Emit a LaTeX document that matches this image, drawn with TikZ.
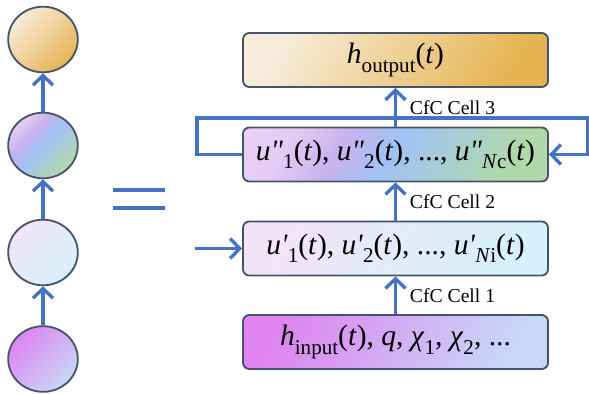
\documentclass[tikz,border=0pt]{standalone}
\usepackage{fontspec}
\setmainfont{Liberation Serif}
\usetikzlibrary{arrows.meta,shapes.geometric}

\definecolor{flowblue}{RGB}{68,114,196}
\definecolor{edgegray}{RGB}{68,84,106}
\definecolor{outA}{RGB}{247,236,218}
\definecolor{outB}{RGB}{230,180,82}
\definecolor{lowA}{RGB}{242,228,247}
\definecolor{lowB}{RGB}{214,241,251}
\definecolor{inA}{RGB}{222,132,240}
\definecolor{inB}{RGB}{200,216,247}

\pgfdeclarehorizontalshading{hidshade}{100bp}{
  rgb(0bp)=(0.93,0.84,0.97); rgb(26bp)=(0.90,0.80,0.96);
  rgb(38bp)=(0.78,0.70,0.93); rgb(49bp)=(0.63,0.76,0.96);
  rgb(60bp)=(0.66,0.80,0.84); rgb(74bp)=(0.69,0.85,0.67);
  rgb(100bp)=(0.69,0.85,0.67)}

\newcommand{\lowidx}[1]{\raisebox{-0.28em}{\fontsize{15}{15}\selectfont #1}}
\newcommand{\upr}{\textit{\textquotesingle}}
\newcommand{\uprr}{\textit{\textquotedbl}}

\begin{document}
\begin{tikzpicture}[>={Straight Barb[length=2.4mm,width=5mm]}, x=0.025cm, y=-0.025cm,
  flow/.style={->, flowblue, line width=2.4pt},
  cell/.style={draw=edgegray, line width=1.3pt, rounded corners=0.16cm,
    minimum width=7.625cm, minimum height=1.35cm, font=\fontsize{21}{25}\selectfont},
  ball/.style={ellipse, draw=edgegray, line width=1.3pt,
    minimum width=1.74cm, minimum height=1.64cm},
  tag/.style={midway, anchor=west, xshift=0.2cm, text=black, font=\fontsize{14}{16}\selectfont}]
\useasboundingbox (0,0) rectangle (589,393);

% unrolled view
\node[ball, left color=outA, right color=outB, shading angle=45] (c4) at (43,39.5) {};
\node[ball, shading=hidshade, shading angle=-45] (c3) at (43,145.5) {};
\node[ball, left color=lowA, right color=lowB, shading angle=45] (c2) at (43,252.5) {};
\node[ball, left color=inA, right color=inB, shading angle=45] (c1) at (43,359) {};
\draw[flow] (c1.north) -- (c2.south);
\draw[flow] (c2.north) -- (c3.south);
\draw[flow] (c3.north) -- (c4.south);

% equals sign
\draw[flowblue, line width=2.4pt] (113,190) -- (165,190);
\draw[flowblue, line width=2.4pt] (113,208) -- (165,208);

% cell stack
\node[cell, left color=outA, right color=outB, shading angle=60] (out) at (395.5,60)
  {\textit{h}\lowidx{output}(\textit{t})};
\node[cell, shading=hidshade, shading angle=-30] (hid2) at (395.5,154.5)
  {\textit{u}\uprr\lowidx{1}(\textit{t}), \textit{u}\uprr\lowidx{2}(\textit{t}), ..., \textit{u}\uprr\lowidx{\textit{N}c}(\textit{t})};
\node[cell, left color=lowA, right color=lowB, shading angle=60] (hid1) at (395.5,248.5)
  {\textit{u}\upr\lowidx{1}(\textit{t}), \textit{u}\upr\lowidx{2}(\textit{t}), ..., \textit{u}\upr\lowidx{\textit{N}i}(\textit{t})};
\node[cell, left color=inA, right color=inB, shading angle=60] (inp) at (395.5,342)
  {\textit{h}\lowidx{input}(\textit{t}), \textit{q}, \textit{χ}\lowidx{1}, \textit{χ}\lowidx{2}, ...};

\draw[flow] (inp.north) -- (hid1.south) node[tag] {CfC Cell 1};
\draw[flow] (hid1.north) -- (hid2.south) node[tag] {CfC Cell 2};
\draw[flow] (hid2.north) -- (out.south) node[tag] {CfC Cell 3};

% recurrence and external input
\coordinate (loopL) at (197,118);
\coordinate (loopR) at (587.5,118);
\coordinate (feed) at (195,248.5);
\draw[flow] (hid2.west) -| (loopL) -- (loopR) |- (hid2.east);
\draw[flow] (feed) -- (hid1.west);
\end{tikzpicture}
\end{document}
